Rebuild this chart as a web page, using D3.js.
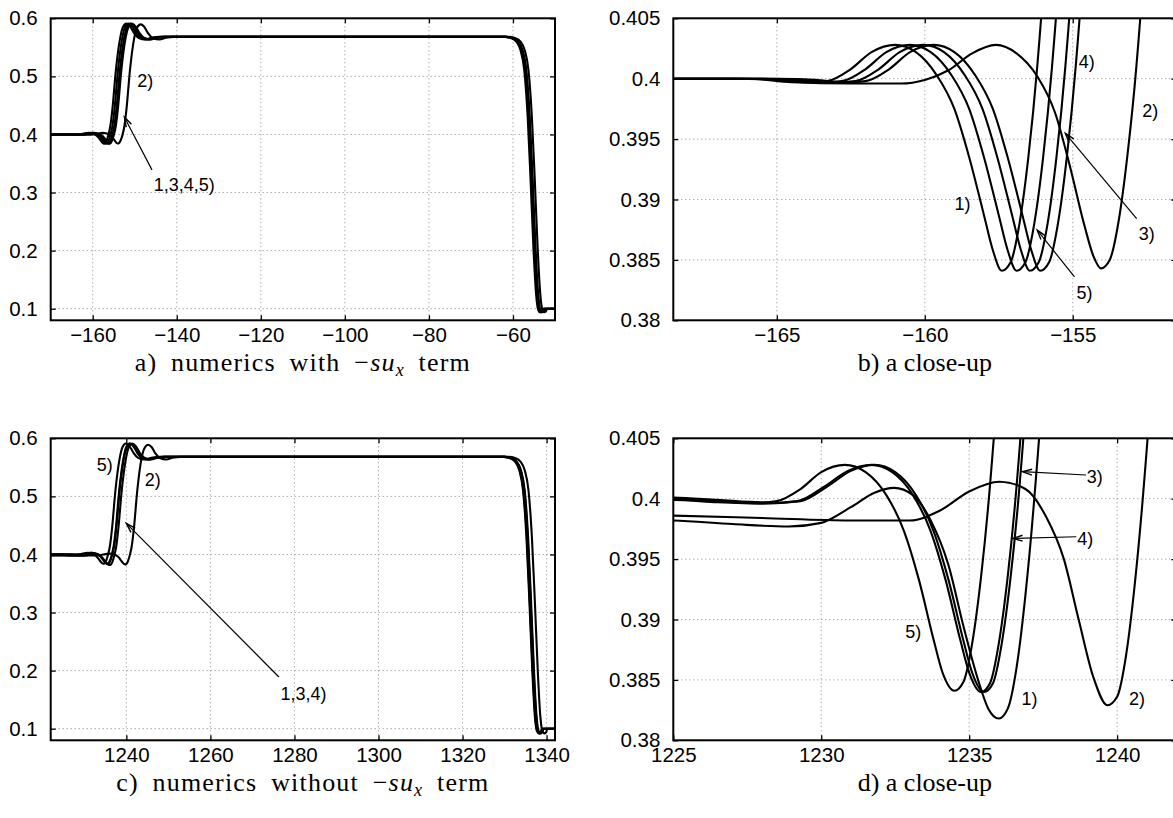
<!DOCTYPE html>
<html><head><meta charset="utf-8">
<script src="https://cdn.jsdelivr.net/npm/d3@7"></script>
<style>body{margin:0;background:#fff;overflow:hidden} svg{display:block}</style>
</head><body>
<svg id="chart" width="1173" height="818"></svg>
<script>
// ---------- tick values ----------
const ticksAX = [-160, -140, -120, -100, -80, -60];
const ticksAY = [0.1, 0.2, 0.3, 0.4, 0.5, 0.6];
const ticksBX = [-165, -160, -155];
const ticksBY = [0.38, 0.385, 0.39, 0.395, 0.4, 0.405];
const ticksCX = [1240, 1260, 1280, 1300, 1320, 1340];
const ticksDX = [1225, 1230, 1235, 1240];

// ---------- series: numerics with -s u_x term (panels a, b) ----------
const a1 = [[-170,0.4],[-166.5,0.4],[-165,0.3999],[-164,0.3997],[-163.3,0.3998],[-162.5,0.4008],[-161.8,0.4022],[-161.0,0.4028],[-160.3,0.4022],[-159.6,0.4003],[-159.0,0.3975],[-158.5,0.3935],[-158.0,0.3887],[-157.7,0.3858],[-157.4,0.3841],[-157.1,0.3848],[-156.8,0.388],[-156.5,0.3935],[-156.2,0.401],[-155.8,0.415],[-155.3,0.445],[-154.5,0.51],[-153.5,0.565],[-152.8,0.585],[-152.0,0.591],[-151.2,0.587],[-150.2,0.575],[-149.0,0.566],[-147.5,0.5635],[-146,0.5665],[-144,0.568],[-62,0.568],[-60.5,0.566],[-59.2,0.56],[-58.2,0.545],[-57.3,0.51],[-56.5,0.43],[-55.8,0.32],[-55.1,0.2],[-54.5,0.125],[-54.0,0.098],[-53.6,0.094],[-53.2,0.095],[-52.9,0.1],[-50,0.1]];
const a2 = [[-170,0.4],[-166,0.4],[-164.5,0.3997],[-162.5,0.3996],[-160.8,0.3996],[-160.0,0.3999],[-159.2,0.4007],[-158.4,0.4021],[-157.6,0.4028],[-156.9,0.4021],[-156.2,0.4002],[-155.6,0.3972],[-155.1,0.3928],[-154.6,0.3878],[-154.3,0.3853],[-154.05,0.3843],[-153.75,0.385],[-153.45,0.3882],[-153.15,0.3937],[-152.85,0.401],[-152.45,0.415],[-151.95,0.445],[-151.15,0.51],[-150.15,0.565],[-149.45,0.584],[-148.6,0.5895],[-147.8,0.586],[-146.8,0.574],[-145.6,0.5655],[-144.1,0.5635],[-142.6,0.5665],[-140.6,0.568],[-61,0.568],[-59.5,0.566],[-58.2,0.56],[-57.2,0.545],[-56.3,0.51],[-55.5,0.43],[-54.8,0.32],[-54.1,0.2],[-53.5,0.125],[-53.0,0.098],[-52.6,0.094],[-52.2,0.095],[-51.9,0.1],[-50,0.1]];
const a3 = [[-170,0.4],[-165.5,0.4],[-164.05,0.3999],[-163.05,0.3997],[-162.35,0.3998],[-161.55,0.4008],[-160.85,0.4022],[-160.05,0.4028],[-159.35,0.4022],[-158.65,0.4003],[-158.05,0.3975],[-157.55,0.3935],[-157.05,0.3887],[-156.75,0.3858],[-156.45,0.3841],[-156.15,0.3848],[-155.85,0.388],[-155.55,0.3935],[-155.25,0.401],[-154.85,0.415],[-154.35,0.445],[-153.55,0.51],[-152.55,0.565],[-151.85,0.585],[-151.05,0.591],[-150.25,0.587],[-149.25,0.575],[-148.05,0.566],[-146.55,0.5635],[-145.05,0.5665],[-143.05,0.568],[-61.65,0.568],[-60.15,0.566],[-58.85,0.56],[-57.85,0.545],[-56.95,0.51],[-56.15,0.43],[-55.45,0.32],[-54.75,0.2],[-54.15,0.125],[-53.65,0.098],[-53.25,0.094],[-52.85,0.095],[-52.55,0.1],[-50,0.1]];
const a4 = [[-170,0.4],[-165,0.4],[-163.7,0.3999],[-162.7,0.3997],[-162.0,0.3998],[-161.2,0.4008],[-160.5,0.4022],[-159.7,0.4028],[-159.0,0.4022],[-158.3,0.4003],[-157.7,0.3975],[-157.2,0.3935],[-156.7,0.3887],[-156.4,0.3858],[-156.1,0.3841],[-155.8,0.3848],[-155.5,0.388],[-155.2,0.3935],[-154.9,0.401],[-154.5,0.415],[-154.0,0.445],[-153.2,0.51],[-152.2,0.565],[-151.5,0.585],[-150.7,0.591],[-149.9,0.587],[-148.9,0.575],[-147.7,0.566],[-146.2,0.5635],[-144.7,0.5665],[-142.7,0.568],[-61.5,0.568],[-60.0,0.566],[-58.7,0.56],[-57.7,0.545],[-56.8,0.51],[-56.0,0.43],[-55.3,0.32],[-54.6,0.2],[-54.0,0.125],[-53.5,0.098],[-53.1,0.094],[-52.7,0.095],[-52.4,0.1],[-50,0.1]];
const a5 = [[-170,0.4],[-166,0.4],[-164.5,0.3999],[-163.5,0.3997],[-162.8,0.3998],[-162.0,0.4008],[-161.3,0.4022],[-160.5,0.4028],[-159.8,0.4022],[-159.1,0.4003],[-158.5,0.3975],[-158.0,0.3935],[-157.5,0.3887],[-157.2,0.3858],[-156.9,0.3841],[-156.6,0.3848],[-156.3,0.388],[-156.0,0.3935],[-155.7,0.401],[-155.3,0.415],[-154.8,0.445],[-154.0,0.51],[-153.0,0.565],[-152.3,0.585],[-151.5,0.591],[-150.7,0.587],[-149.7,0.575],[-148.5,0.566],[-147.0,0.5635],[-145.5,0.5665],[-143.5,0.568],[-61.8,0.568],[-60.3,0.566],[-59.0,0.56],[-58.0,0.545],[-57.1,0.51],[-56.3,0.43],[-55.6,0.32],[-54.9,0.2],[-54.3,0.125],[-53.8,0.098],[-53.4,0.094],[-53.0,0.095],[-52.7,0.1],[-50,0.1]];

// ---------- series: numerics without -s u_x term (panels c, d) ----------
const c1 = [[1222,0.3983],[1225,0.3982],[1227,0.3979],[1228.9,0.3977],[1230.0,0.398],[1231.0,0.3993],[1231.8,0.4005],[1232.46,0.4009],[1233.1,0.4003],[1233.7,0.3982],[1234.3,0.3945],[1234.8,0.3895],[1235.3,0.385],[1235.65,0.3826],[1236.0,0.3818],[1236.3,0.3826],[1236.6,0.386],[1236.9,0.392],[1237.2,0.4],[1237.6,0.414],[1238.1,0.445],[1238.9,0.51],[1239.9,0.565],[1240.6,0.585],[1241.4,0.591],[1242.2,0.587],[1243.2,0.575],[1244.4,0.566],[1245.9,0.5635],[1247.4,0.5665],[1249.4,0.568],[1329.8,0.568],[1331.3,0.566],[1332.6,0.56],[1333.6,0.545],[1334.5,0.51],[1335.3,0.43],[1336.0,0.32],[1336.7,0.2],[1337.3,0.122],[1337.8,0.096],[1338.3,0.092],[1338.7,0.094],[1339.0,0.1],[1342,0.1]];
const c2 = [[1222,0.3987],[1225,0.3986],[1228,0.3984],[1231,0.3982],[1233,0.3982],[1234,0.399],[1235,0.4006],[1236.03,0.4014],[1236.9,0.4008],[1237.6,0.3985],[1238.2,0.395],[1238.7,0.39],[1239.2,0.3852],[1239.67,0.3829],[1240.0,0.3836],[1240.3,0.387],[1240.6,0.393],[1240.9,0.401],[1241.3,0.415],[1241.8,0.445],[1242.6,0.51],[1243.6,0.565],[1244.3,0.583],[1245.2,0.589],[1246.0,0.585],[1247.0,0.573],[1248.0,0.566],[1249.5,0.5635],[1251,0.5665],[1253,0.568],[1331,0.568],[1332.5,0.566],[1333.8,0.56],[1334.8,0.545],[1335.7,0.51],[1336.5,0.43],[1337.2,0.32],[1337.9,0.2],[1338.5,0.122],[1339.0,0.096],[1339.5,0.092],[1339.9,0.094],[1340.2,0.1],[1342,0.1]];
const c3 = [[1222,0.3999],[1225,0.3999],[1226.5,0.3997],[1228,0.3996],[1229.3,0.3998],[1230.2,0.401],[1231.0,0.4023],[1231.8,0.4028],[1232.5,0.4022],[1233.2,0.4003],[1233.8,0.3973],[1234.3,0.3933],[1234.8,0.3883],[1235.1,0.3856],[1235.5,0.384],[1235.8,0.3847],[1236.1,0.388],[1236.4,0.3935],[1236.7,0.401],[1237.1,0.415],[1237.6,0.445],[1238.4,0.51],[1239.4,0.565],[1240.1,0.585],[1240.9,0.591],[1241.7,0.587],[1242.7,0.575],[1243.9,0.566],[1245.4,0.5635],[1247,0.5665],[1249,0.568],[1330.1,0.568],[1331.6,0.566],[1332.9,0.56],[1333.9,0.545],[1334.8,0.51],[1335.6,0.43],[1336.3,0.32],[1337.0,0.2],[1337.6,0.122],[1338.1,0.096],[1338.6,0.092],[1339.0,0.094],[1339.3,0.1],[1342,0.1]];
const c4 = [[1222,0.4],[1225,0.4],[1226.4,0.3998],[1227.9,0.3996],[1229.2,0.3998],[1230.1,0.401],[1230.9,0.4023],[1231.7,0.4028],[1232.4,0.4022],[1233.1,0.4003],[1233.7,0.3973],[1234.2,0.3933],[1234.7,0.3883],[1235.0,0.3856],[1235.4,0.384],[1235.7,0.3847],[1236.0,0.388],[1236.3,0.3935],[1236.6,0.401],[1237.0,0.415],[1237.5,0.445],[1238.3,0.51],[1239.3,0.565],[1240.0,0.585],[1240.8,0.591],[1241.6,0.587],[1242.6,0.575],[1243.8,0.566],[1245.3,0.5635],[1246.9,0.5665],[1248.9,0.568],[1330,0.568],[1331.5,0.566],[1332.8,0.56],[1333.8,0.545],[1334.7,0.51],[1335.5,0.43],[1336.2,0.32],[1336.9,0.2],[1337.5,0.122],[1338.0,0.096],[1338.5,0.092],[1338.9,0.094],[1339.2,0.1],[1342,0.1]];
const c5 = [[1222,0.4002],[1225,0.4001],[1226.5,0.3999],[1228,0.3997],[1228.5,0.3998],[1229.3,0.4008],[1230.0,0.4022],[1230.8,0.4028],[1231.5,0.4022],[1232.2,0.4003],[1232.8,0.3973],[1233.3,0.3933],[1233.8,0.3883],[1234.1,0.3856],[1234.5,0.3841],[1234.8,0.3848],[1235.1,0.388],[1235.4,0.3935],[1235.7,0.401],[1236.1,0.415],[1236.6,0.445],[1237.4,0.51],[1238.4,0.565],[1239.1,0.585],[1239.9,0.591],[1240.7,0.587],[1241.7,0.575],[1242.9,0.566],[1244.4,0.5635],[1246,0.5665],[1248,0.568],[1329.7,0.568],[1331.2,0.566],[1332.5,0.56],[1333.5,0.545],[1334.4,0.51],[1335.2,0.43],[1335.9,0.32],[1336.6,0.2],[1337.2,0.122],[1337.7,0.096],[1338.2,0.092],[1338.6,0.094],[1338.9,0.1],[1342,0.1]];

// ---------- annotation texts (data coordinates) ----------
const labelsA = [{t:"2)", x:-149.4, y:0.481}, {t:"1,3,4,5)", x:-145.5, y:0.303}];
const arrowsA = [{x1:-145.9, y1:0.339, x2:-152.46, y2:0.4297}];
const labelsB = [{t:"1)", x:-159.0, y:0.3891}, {t:"4)", x:-154.8, y:0.40086}, {t:"2)", x:-152.65, y:0.39685}, {t:"3)", x:-152.77, y:0.38663}, {t:"5)", x:-154.87, y:0.3818}];
const arrowsB = [{x1:-152.84, y1:0.38842, x2:-155.25, y2:0.39547}, {x1:-154.94, y1:0.38359, x2:-156.2, y2:0.38746}];
const labelsC = [{t:"5)", x:1232.95, y:0.5438}, {t:"2)", x:1244.4, y:0.518}, {t:"1,3,4)", x:1276.7, y:0.1489}];
const arrowsC = [{x1:1276.3, y1:0.189, x2:1240.0, y2:0.4534}];
const labelsD = [{t:"3)", x:1238.97, y:0.40127}, {t:"4)", x:1238.65, y:0.39616}, {t:"5)", x:1232.84, y:0.38843}, {t:"1)", x:1236.77, y:0.3829}, {t:"2)", x:1240.4, y:0.3829}];
const arrowsD = [{x1:1238.95, y1:0.40196, x2:1236.8, y2:0.40224}, {x1:1238.62, y1:0.39685, x2:1236.48, y2:0.39671}];

const captions = [
  {pre:"a) numerics with ", post:" term"},
  {pre:"b) a close-up"},
  {pre:"c) numerics without ", post:" term"},
  {pre:"d) a close-up"}
];

// ---------- layout ----------
const svg = d3.select("#chart");
const SANS = "'Liberation Sans', Arial, Helvetica, sans-serif";
const SERIF = "'Liberation Serif', 'Times New Roman', serif";
const minus = d => String(d).replace("-", "\u2212");

const panels = [
  {left:50.7, top:18.3, w:504.3, h:302, xd:[-170,-50], yd:[0.08,0.6], xt:ticksAX, yt:ticksAY, series:[a1,a2,a3,a4,a5], labels:labelsA, arrows:arrowsA, cap:captions[0]},
  {left:673.3, top:18.3, w:503, h:302, xd:[-168.5,-151.5], yd:[0.38,0.405], xt:ticksBX, yt:ticksBY, series:[a1,a2,a3,a4,a5], labels:labelsB, arrows:arrowsB, cap:captions[1]},
  {left:50.7, top:438.3, w:504.3, h:302, xd:[1222,1342], yd:[0.08,0.6], xt:ticksCX, yt:ticksAY, series:[c1,c2,c3,c4,c5], labels:labelsC, arrows:arrowsC, cap:captions[2]},
  {left:673.3, top:438.3, w:503, h:302, xd:[1225,1242], yd:[0.38,0.405], xt:ticksDX, yt:ticksBY, series:[c1,c2,c3,c4,c5], labels:labelsD, arrows:arrowsD, cap:captions[3]}
];

panels.forEach((p, i) => {
  const g = svg.append("g").attr("transform", `translate(${p.left},${p.top})`);
  const x = d3.scaleLinear().domain(p.xd).range([0, p.w]);
  const y = d3.scaleLinear().domain(p.yd).range([p.h, 0]);

  // grid
  const grid = g.append("g").attr("stroke", "#8a8a8a").attr("stroke-width", 1).attr("stroke-dasharray", "1,3");
  grid.selectAll(".gx").data(p.xt).join("line")
    .attr("x1", d => x(d)).attr("x2", d => x(d)).attr("y1", 0).attr("y2", p.h);
  grid.selectAll(".gy").data(p.yt).join("line")
    .attr("x1", 0).attr("x2", p.w).attr("y1", d => y(d)).attr("y2", d => y(d));

  // curves
  const clipId = "clip" + i;
  g.append("clipPath").attr("id", clipId).append("rect").attr("width", p.w).attr("height", p.h);
  const line = d3.line().x(d => x(d[0])).y(d => y(d[1])).curve(d3.curveMonotoneX);
  g.append("g").attr("clip-path", `url(#${clipId})`)
    .selectAll("path").data(p.series).join("path")
    .attr("d", line).attr("fill", "none").attr("stroke", "#000").attr("stroke-width", 2.1)
    .attr("stroke-linejoin", "round");

  // axes (inward ticks, all sides)
  const style = sel => {
    sel.select(".domain").remove();
    sel.selectAll(".tick line").attr("stroke", "#000").attr("stroke-width", 1.3);
    sel.selectAll("text").attr("font-family", SANS).attr("font-size", 20.5).attr("fill", "#000");
  };
  g.append("g").attr("transform", `translate(0,${p.h})`)
    .call(d3.axisBottom(x).tickValues(p.xt).tickSize(-5).tickPadding(7).tickFormat(minus)).call(style);
  g.append("g")
    .call(d3.axisLeft(y).tickValues(p.yt).tickSize(-5).tickPadding(13).tickFormat(d => String(d))).call(style);
  g.append("g")
    .call(d3.axisTop(x).tickValues(p.xt).tickSize(-5).tickFormat("")).call(style);
  g.append("g").attr("transform", `translate(${p.w},0)`)
    .call(d3.axisRight(y).tickValues(p.yt).tickSize(-5).tickFormat("")).call(style);

  // box
  g.append("rect").attr("width", p.w).attr("height", p.h)
    .attr("fill", "none").attr("stroke", "#000").attr("stroke-width", 2);

  // annotations
  g.selectAll(".lab").data(p.labels).join("text")
    .attr("x", d => x(d.x)).attr("y", d => y(d.y))
    .attr("font-family", SANS).attr("font-size", 18).attr("fill", "#000")
    .text(d => d.t);
  p.arrows.forEach(a => {
    const X1 = x(a.x1), Y1 = y(a.y1), X2 = x(a.x2), Y2 = y(a.y2);
    const ang = Math.atan2(Y1 - Y2, X1 - X2);
    const L = 10, sp = 0.3;
    g.append("line").attr("x1", X1).attr("y1", Y1).attr("x2", X2).attr("y2", Y2)
      .attr("stroke", "#000").attr("stroke-width", 1.2);
    g.append("path")
      .attr("d", `M${X2 + L*Math.cos(ang+sp)},${Y2 + L*Math.sin(ang+sp)}L${X2},${Y2}L${X2 + L*Math.cos(ang-sp)},${Y2 + L*Math.sin(ang-sp)}`)
      .attr("fill", "none").attr("stroke", "#000").attr("stroke-width", 1.4);
  });

  // caption
  const t = g.append("text").attr("x", p.w / 2).attr("y", p.h + 51)
    .attr("text-anchor", "middle").attr("font-family", SERIF).attr("font-size", 26).attr("fill", "#000");
  if (p.cap.post) t.attr("letter-spacing", 1.2).attr("word-spacing", 6);
  t.append("tspan").text(p.cap.pre);
  if (p.cap.post) {
    t.append("tspan").text("\u2212");
    t.append("tspan").attr("font-style", "italic").text("su");
    t.append("tspan").attr("font-style", "italic").attr("font-size", 18).attr("dy", 5).text("x");
    t.append("tspan").attr("dy", -5).text(p.cap.post);
  }
});
</script>
</body></html>
